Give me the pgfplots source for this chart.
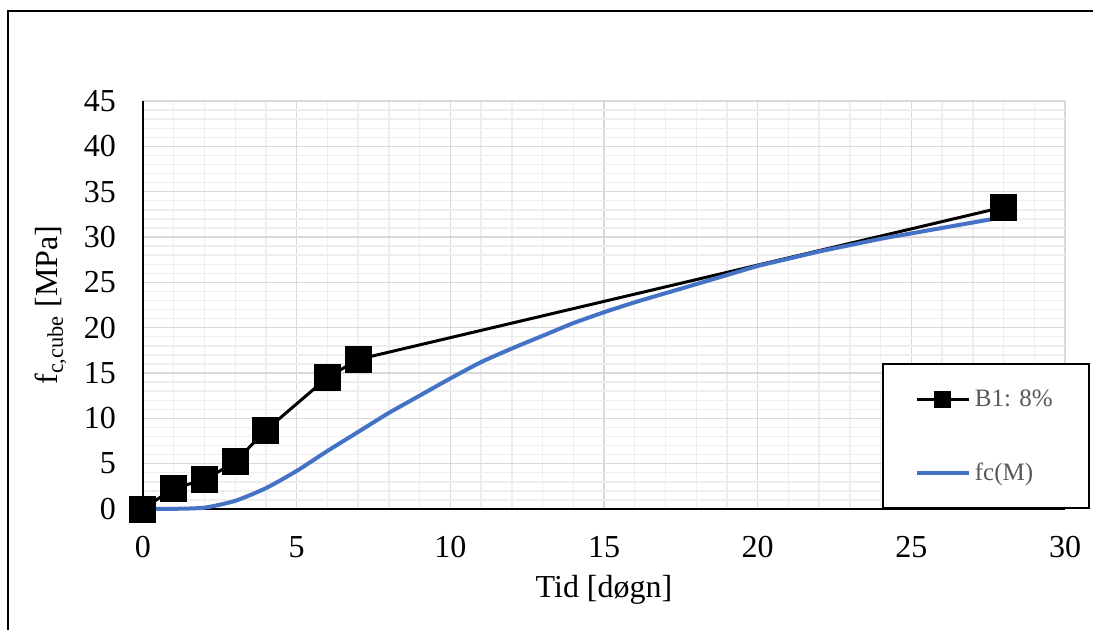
\documentclass[border=0pt]{standalone}
\usepackage{fontspec}
\setmainfont{Liberation Serif}
\usepackage{pgfplots}
\pgfplotsset{compat=1.18}

\definecolor{majorgrid}{HTML}{D9D9D9}
\definecolor{minorgrid}{HTML}{EEEEEE}
\definecolor{fcblue}{HTML}{4472C4}
\definecolor{legtext}{HTML}{595959}

\begin{document}
\begin{tikzpicture}
\useasboundingbox (0,0) rectangle (546.5pt,314.5pt);
% frame around the chart area
\draw[line width=1.1pt] (3.8pt,-2pt) -- (3.8pt,309pt) -- (548pt,309pt);

\begin{axis}[
  at={(71.5pt,60pt)}, anchor=origin,
  scale only axis, width=461pt, height=204pt,
  xmin=0, xmax=30, ymin=0, ymax=45,
  xtick={0,5,...,30}, ytick={0,5,...,45},
  minor x tick num=4, minor y tick num=4,
  major tick length=0pt, minor tick length=0pt,
  grid=both,
  major grid style={majorgrid, line width=0.7pt},
  minor grid style={minorgrid, line width=0.7pt},
  axis x line=bottom, axis y line=left,
  axis line style={-, black, line width=1pt},
  tick label style={font=\fontsize{16}{18}\selectfont, black},
  /pgf/number format/assume math mode=true,
  xticklabel style={yshift=-10pt},
  yticklabel style={xshift=-10pt},
  xlabel={Tid [døgn]},
  ylabel={f\textsubscript{c,cube} [MPa]},
  label style={font=\fontsize{16}{18}\selectfont},
  xlabel style={yshift=-2pt},
  ylabel style={yshift=2pt},
  legend cell align=left,
  legend image code/.code={%
    \draw[mark repeat=2,mark phase=2,#1]
      plot coordinates {(0pt,0pt) (13pt,0pt) (26pt,0pt)};},
  legend image post style={mark size=3.5pt},
  legend style={
    at={(rel axis cs:0.8015,0)}, anchor=south west,
    draw=black, line width=0.9pt, fill=white,
    inner xsep=16pt, inner ysep=9pt, row sep=20pt,
    font=\fontsize{12.5}{14}\selectfont, text=legtext,
    nodes={inner sep=2pt, text height=10pt, text depth=3pt},
  },
  clip=false,
]
\addplot[black, line width=1.5pt, mark=square*, mark size=6pt,
  mark options={solid}] coordinates {
  (0,0) (1,2.3) (2,3.2) (3,5.2) (4,8.7) (6,14.5) (7,16.5) (28,33.3)
};
\addlegendentry{B1: 8\%}

\addplot[fcblue, line width=2pt, smooth, tension=0.4] coordinates {
  (0,0) (1,0.02) (2,0.15) (3,0.9) (4,2.3) (5,4.2) (6,6.4) (7,8.5)
  (8,10.6) (9,12.5) (10,14.4) (11,16.2) (12,17.7) (13,19.1) (14,20.5)
  (15,21.7) (16,22.8) (17,23.8) (18,24.8) (19,25.8) (20,26.8) (21,27.6)
  (22,28.4) (23,29.1) (24,29.8) (25,30.4) (26,31.0) (27,31.6) (28,32.2)
};
\addlegendentry{fc(M)}
\end{axis}
\end{tikzpicture}
\end{document}
